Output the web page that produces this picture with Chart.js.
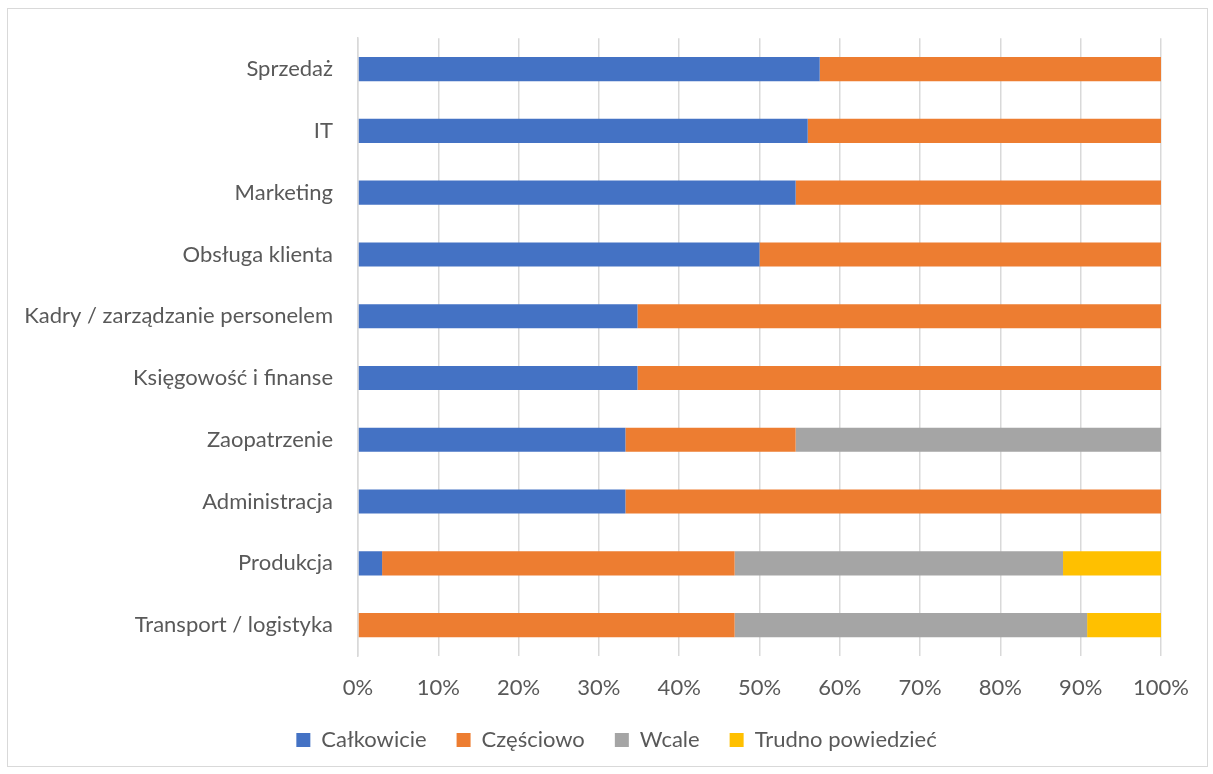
<!DOCTYPE html>
<html lang="pl">
<head>
<meta charset="utf-8">
<title>Działy</title>
<script src="https://cdn.jsdelivr.net/npm/chart.js@4/dist/chart.umd.min.js"></script>
<style>
  html, body { margin: 0; padding: 0; background: #fff; }
  #wrap { position: relative; width: 1213px; height: 774px; }
  #frame { position: absolute; left: 7px; top: 8px; width: 1199px; height: 757px;
           border: 1px solid #d9d9d9; pointer-events: none; }
</style>
</head>
<body>
<div id="wrap">
  <canvas id="myChart" width="1213" height="774"></canvas>
  <div id="frame"></div>
</div>
<script>
// dzialy, od gory do dolu
const dzialy = ['Sprzedaż', 'IT', 'Marketing', 'Obsługa klienta',
  'Kadry / zarządzanie personelem', 'Księgowość i finanse', 'Zaopatrzenie',
  'Administracja', 'Produkcja', 'Transport / logistyka'];

// udzialy odpowiedzi w %
const calkowicie = [57.5, 56.0, 54.5, 50.0, 34.8, 34.8, 33.3, 33.3, 3.0, 0];
const czesciowo  = [42.5, 44.0, 45.5, 50.0, 65.2, 65.2, 21.2, 66.7, 43.9, 46.9];
const wcale      = [0, 0, 0, 0, 0, 0, 45.5, 0, 40.9, 43.9];
const trudno     = [0, 0, 0, 0, 0, 0, 0, 0, 12.2, 9.2];

const osX = [0, 10, 20, 30, 40, 50, 60, 70, 80, 90, 100];

const szary = '#595959';
const czcionka = {family: 'Lato, "Open Sans", sans-serif', size: 22};

// legenda wysrodkowana wzgledem calego obrazka, a nie tylko obszaru bez marginesu
const przesunLegende = {
  id: 'przesunLegende',
  afterLayout(chart) {
    const lg = chart.legend;
    if (!lg) return;
    lg.left += 36;
    lg.right += 36;
  }
};

const ctx = document.querySelector('#myChart').getContext('2d');

const myChart = new Chart(ctx, {
  type: 'bar',
  data: {
    labels: dzialy,
    datasets: [
      {label: 'Całkowicie', data: calkowicie, backgroundColor: '#4472c4'},
      {label: 'Częściowo', data: czesciowo, backgroundColor: '#ed7d31'},
      {label: 'Wcale', data: wcale, backgroundColor: '#a5a5a5'},
      {label: 'Trudno powiedzieć', data: trudno, backgroundColor: '#ffc000'}
    ]
  },
  options: {
    indexAxis: 'y',
    responsive: false,
    animation: false,
    datasets: {
      bar: {categoryPercentage: 1, barPercentage: 0.39, borderWidth: 0}
    },
    layout: {padding: {top: 37, right: 52, bottom: 13, left: 0}},
    scales: {
      x: {
        stacked: true,
        min: 0,
        max: 100,
        afterBuildTicks: (axis) => { axis.ticks = osX.map(v => ({value: v})); },
        afterFit: (axis) => { axis.height = 43; },
        grid: {color: '#d9d9d9', lineWidth: 1.5, drawTicks: false},
        border: {display: false},
        ticks: {color: szary, font: czcionka, padding: 19,
                callback: (v) => v + '%'}
      },
      y: {
        stacked: true,
        afterFit: (axis) => { axis.width = 358; },
        grid: {display: false, drawTicks: false},
        border: {color: '#d9d9d9', width: 1.5},
        ticks: {color: szary, font: czcionka, padding: 25}
      }
    },
    plugins: {
      legend: {
        position: 'bottom',
        labels: {color: szary, font: czcionka, boxWidth: 14, boxHeight: 14, padding: 30}
      },
      tooltip: {enabled: false}
    }
  },
  plugins: [przesunLegende]
});
</script>
</body>
</html>
